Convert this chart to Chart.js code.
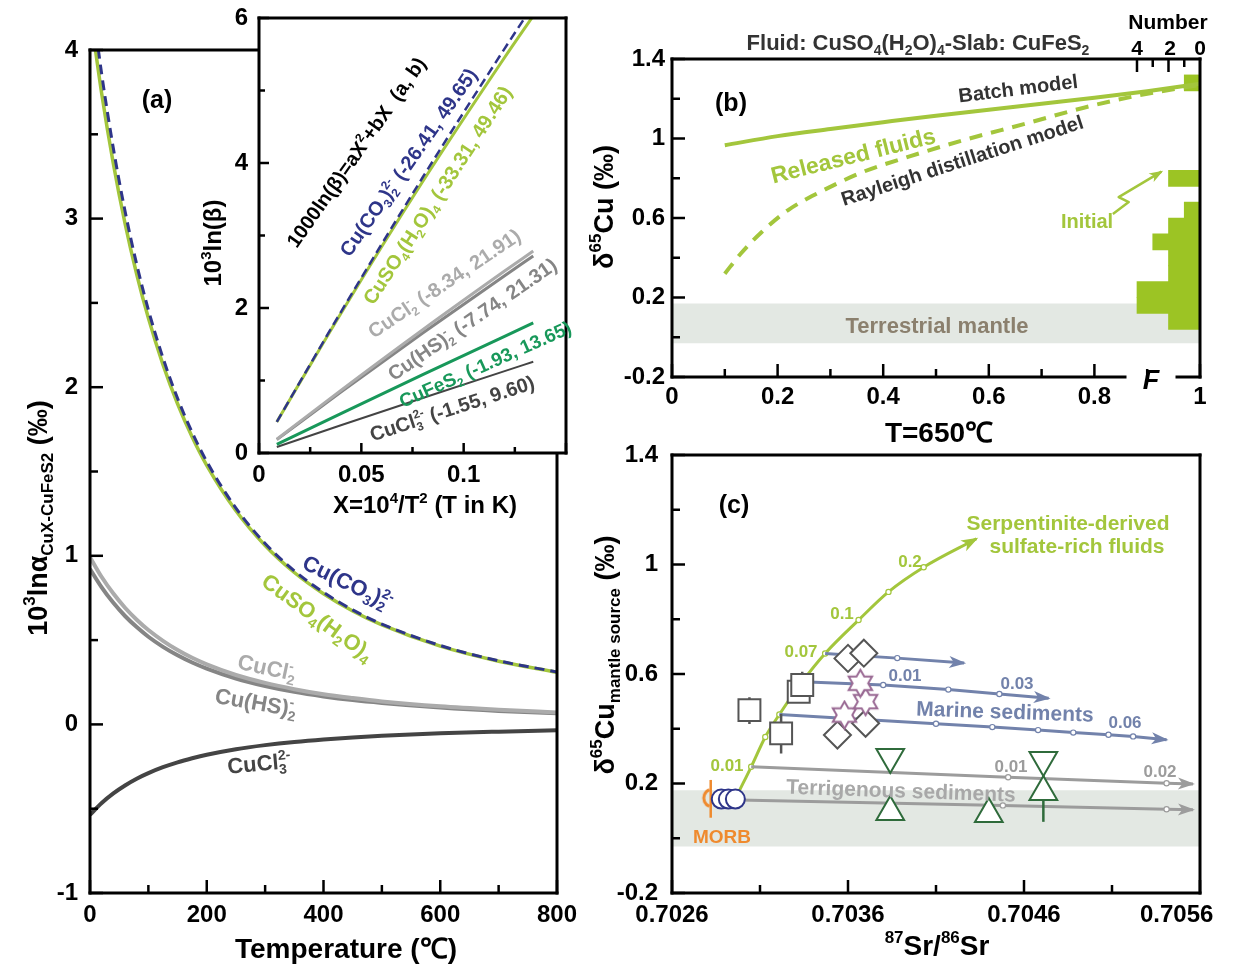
<!DOCTYPE html>
<html>
<head>
<meta charset="utf-8">
<script src="https://cdn.jsdelivr.net/npm/chart.js@4.4.1/dist/chart.umd.min.js"></script>
<style>
  body { margin: 0; background: #fff; width: 1233px; height: 974px; position: relative; overflow: hidden; }
  canvas { position: absolute; }
</style>
</head>
<body>
<canvas id="chartA" width="600" height="974" style="left:0;top:0"></canvas>
<canvas id="chartInset" width="380" height="530" style="left:200px;top:0"></canvas>
<canvas id="chartB" width="658" height="450" style="left:575px;top:0"></canvas>
<canvas id="chartC" width="658" height="534" style="left:575px;top:440px"></canvas>
<script>
/* === DATA === */
// (a) 10^3 ln alpha (CuX - CuFeS2) vs temperature
const tempC = [0, 20, 40, 60, 80, 100, 125, 150, 175, 200, 250, 300, 350, 400, 450, 500, 600, 700, 800];
const alphaCO3 = [4.385, 3.858, 3.417, 3.045, 2.729, 2.459, 2.174, 1.934, 1.732, 1.559, 1.283, 1.073, 0.911, 0.783, 0.679, 0.595, 0.468, 0.377, 0.311];
const alphaSO4 = [4.236, 3.742, 3.326, 2.972, 2.670, 2.410, 2.134, 1.902, 1.705, 1.537, 1.267, 1.061, 0.901, 0.775, 0.673, 0.590, 0.464, 0.375, 0.309];
const alphaCuCl2 = [0.992, 0.874, 0.776, 0.692, 0.621, 0.560, 0.496, 0.441, 0.395, 0.356, 0.293, 0.246, 0.209, 0.179, 0.156, 0.136, 0.107, 0.087, 0.071];
const alphaHS = [0.922, 0.813, 0.721, 0.643, 0.577, 0.520, 0.460, 0.410, 0.367, 0.331, 0.272, 0.228, 0.193, 0.166, 0.144, 0.127, 0.100, 0.080, 0.066];
const alphaCuCl3 = [-0.536, -0.466, -0.409, -0.362, -0.322, -0.289, -0.254, -0.225, -0.201, -0.180, -0.147, -0.123, -0.104, -0.089, -0.077, -0.068, -0.053, -0.043, -0.035];

// inset: 10^3 ln beta vs X = 10^4/T^2
const betaX = [0.0087, 0.04, 0.08, 0.12, 0.134];
const betaCO3 = [0.430, 1.944, 3.803, 5.578, 6.179];
const betaSO4 = [0.428, 1.925, 3.744, 5.455, 6.030];
const betaCuCl2 = [0.190, 0.863, 1.700, 2.509, 2.786];
const betaHS = [0.185, 0.840, 1.655, 2.446, 2.717];
const betaFeS2 = [0.119, 0.543, 1.080, 1.610, 1.794];
const betaCuCl3 = [0.083, 0.382, 0.758, 1.130, 1.258];

// (b) released fluids at 650 C
const batchF = [0.1, 0.2, 0.3, 0.4, 0.5, 0.6, 0.7, 0.8, 0.9, 1.0];
const batchCu = [0.966, 1.012, 1.048, 1.082, 1.115, 1.145, 1.175, 1.205, 1.238, 1.275];
const rayF = [0.1, 0.13, 0.17, 0.22, 0.28, 0.36, 0.45, 0.55, 0.67, 0.78, 0.88, 1.0];
const rayCu = [0.32, 0.42, 0.53, 0.64, 0.73, 0.83, 0.91, 0.99, 1.075, 1.155, 1.215, 1.27];
const binMid = [0.12, 0.20, 0.28, 0.36, 0.44, 0.52, 0.60, 0.68, 0.76, 0.84, 0.92, 1.00, 1.08, 1.16, 1.24, 1.32];
const binCount = [2, 4, 4, 2, 2, 3, 2, 1, 0, 2, 0, 0, 0, 0, 0, 1];
const mantleBand = [-0.03, 0.17];

// (c) d65Cu mantle source vs 87Sr/86Sr
const morbSr = [0.70282], morbCu = [0.147], morbErr = [[0.075, 0.213]];
const circleSr = [0.70288, 0.70292, 0.70296], circleCu = [0.143, 0.143, 0.143];
const squareSr = [0.70304, 0.70322, 0.70332, 0.70334], squareCu = [0.468, 0.383, 0.535, 0.56];
const squareErr = [[0.417, 0.515], [0.31, 0.454], null, [0.56, 0.608]];
const diamondSr = [0.70360, 0.70369, 0.70354, 0.70370], diamondCu = [0.657, 0.676, 0.377, 0.42];
const starSr = [0.70358, 0.70370, 0.70367], starCu = [0.45, 0.499, 0.566];
const triUpSr = [0.70384, 0.70440, 0.70471], triUpCu = [0.096, 0.089, 0.169];
const triDownSr = [0.70384, 0.70471], triDownCu = [0.297, 0.286];
const triErr = [null, null, [0.06, 0.31]];
const serpSr = [0.70298, 0.70305, 0.70313, 0.70321, 0.70334, 0.70347, 0.70366, 0.70383, 0.70403, 0.70433];
const serpCu = [0.17, 0.261, 0.37, 0.452, 0.572, 0.675, 0.797, 0.90, 0.99, 1.094];
const marine1Sr = [0.70347, 0.70388, 0.70426], marine1Cu = [0.675, 0.658, 0.64];
const marine2Sr = [0.70334, 0.70380, 0.70417, 0.70446, 0.70474], marine2Cu = [0.572, 0.56, 0.543, 0.527, 0.511];
const marine3Sr = [0.70321, 0.70410, 0.70442, 0.70468, 0.70488, 0.70508, 0.70522, 0.70541];
const marine3Cu = [0.452, 0.418, 0.406, 0.395, 0.386, 0.378, 0.372, 0.36];
const terr1Sr = [0.70305, 0.70451, 0.70541, 0.70556], terr1Cu = [0.261, 0.223, 0.201, 0.198];
const terr2Sr = [0.70298, 0.70448, 0.70541, 0.70556], terr2Cu = [0.14, 0.12, 0.106, 0.104];
const mantleBandC = [-0.03, 0.175];

/* === STYLE === */
const FONT = "'Liberation Sans', Arial, Helvetica, sans-serif";
const NAVY = '#2e3589';
const LIME = '#a3c63c';
const LIME_BAR = '#9cc424';
const GRAY_L = '#ababab';
const GRAY_M = '#858585';
const GRAY_D = '#444444';
const TEAL = '#18985a';
const BAND = '#e3e8e3';
const SLATE = '#7282ab';
const TERR = '#9c9c9c';
const ORANGE = '#ef8a2e';
const NBSP = '\u00a0';

/* === RICH TEXT (sub/superscripts) === */
function parseRich(str) {
  const segs = [];
  let buf = '', i = 0;
  while (i < str.length) {
    const c = str[i];
    if ((c === '_' || c === '^') && str[i + 1] === '{') {
      if (buf) { segs.push({ t: buf, m: '' }); buf = ''; }
      const end = str.indexOf('}', i);
      segs.push({ t: str.slice(i + 2, end), m: c === '_' ? 'sub' : 'sup' });
      i = end + 1;
    } else { buf += c; i++; }
  }
  if (buf) segs.push({ t: buf, m: '' });
  return segs;
}

function drawRich(ctx, str, x, y, o) {
  const size = o.size || 20;
  const small = Math.round(size * 0.62);
  const style = (o.italic ? 'italic ' : '') + 'bold ';
  const segs = parseRich(str);
  const items = [];
  let cx = 0, subStart = 0, subW = 0;
  segs.forEach((s, k) => {
    const fs = s.m ? small : size;
    ctx.font = style + fs + 'px ' + FONT;
    const w = ctx.measureText(s.t).width;
    let sx = cx;
    if (s.m === 'sup' && k > 0 && segs[k - 1].m === 'sub') {
      sx = subStart;
      cx = sx + Math.max(subW, w);
    } else {
      cx += w;
    }
    if (s.m === 'sub') { subStart = sx; subW = w; }
    const dy = s.m === 'sub' ? size * 0.22 : s.m === 'sup' ? -size * 0.42 : 0;
    items.push({ t: s.t, fs, x: sx, dy });
  });
  const x0 = o.align === 'left' ? 0 : o.align === 'right' ? -cx : -cx / 2;
  ctx.save();
  ctx.translate(x, y);
  if (o.rotate) ctx.rotate(o.rotate * Math.PI / 180);
  ctx.fillStyle = o.color || '#000';
  ctx.textBaseline = 'alphabetic';
  items.forEach(it => {
    ctx.font = style + it.fs + 'px ' + FONT;
    ctx.fillText(it.t, x0 + it.x, size * 0.36 + it.dy);
  });
  ctx.restore();
}

function arrowHead(ctx, p0, p1, color, len, half) {
  const ang = Math.atan2(p1[1] - p0[1], p1[0] - p0[0]);
  ctx.save();
  ctx.translate(p1[0], p1[1]);
  ctx.rotate(ang);
  ctx.fillStyle = color;
  ctx.beginPath();
  ctx.moveTo(2, 0);
  ctx.lineTo(-len, -half);
  ctx.lineTo(-len * 0.7, 0);
  ctx.lineTo(-len, half);
  ctx.closePath();
  ctx.fill();
  ctx.restore();
}

/* === DECORATION PLUGIN: frame, inward ticks, arrows, labels === */
const deco = {
  id: 'deco',
  beforeDraw(chart, args, o) {
    if (!o.white) return;
    const a = chart.chartArea, ctx = chart.ctx;
    ctx.save();
    ctx.fillStyle = '#fff';
    ctx.fillRect(a.left, a.top, a.right - a.left, a.bottom - a.top);
    ctx.restore();
  },
  afterDatasetsDraw(chart, args, o) {
    const ctx = chart.ctx, a = chart.chartArea;
    const ox = o.offset[0], oy = o.offset[1];
    ctx.save();

    // annotation paths in data units
    (o.paths || []).forEach(p => {
      const xs = chart.scales.x, ys = chart.scales.y;
      const pts = p.pts.map(q => [xs.getPixelForValue(q[0]), ys.getPixelForValue(q[1])]);
      ctx.strokeStyle = p.color;
      ctx.lineWidth = p.width;
      ctx.lineJoin = 'round';
      ctx.beginPath();
      pts.forEach((q, i) => i ? ctx.lineTo(q[0], q[1]) : ctx.moveTo(q[0], q[1]));
      ctx.stroke();
      const n = pts.length;
      if (p.arrow) arrowHead(ctx, pts[n - 2], pts[n - 1], p.color, 12, 5);
    });

    // arrow heads at the end of flagged lines
    chart.data.datasets.forEach((d, i) => {
      if (!d.arrowHead) return;
      const pts = chart.getDatasetMeta(i).data, n = pts.length;
      arrowHead(ctx, [pts[n - 2].x, pts[n - 2].y], [pts[n - 1].x, pts[n - 1].y], d.borderColor, 15, 6);
    });

    // inward tick marks
    const tk = o.ticks;
    ctx.strokeStyle = '#000';
    ctx.lineWidth = 2.5;
    ctx.lineCap = 'butt';
    tk.axes.forEach(id => {
      const s = chart.scales[id];
      s.ticks.forEach((t, i) => {
        const len = i % 2 === 0 ? tk.major : tk.minor;
        const p = s.getPixelForValue(t.value);
        ctx.beginPath();
        if (s.isHorizontal()) { ctx.moveTo(p, a.bottom); ctx.lineTo(p, a.bottom - len); }
        else { ctx.moveTo(a.left, p); ctx.lineTo(a.left + len, p); }
        ctx.stroke();
      });
    });
    (tk.extra || []).forEach(e => {
      const s = chart.scales[e.scale];
      e.values.forEach(v => {
        const p = s.getPixelForValue(v);
        const len = v % 2 === 0 ? tk.major : tk.minor;
        ctx.beginPath(); ctx.moveTo(p, a.top); ctx.lineTo(p, a.top + len); ctx.stroke();
      });
    });

    // frame
    ctx.lineWidth = 3;
    ctx.lineCap = 'square';
    const seg = (x1, y1, x2, y2) => { ctx.beginPath(); ctx.moveTo(x1, y1); ctx.lineTo(x2, y2); ctx.stroke(); };
    seg(a.left, a.top, a.left, a.bottom);
    if (o.gap) {
      seg(a.left, a.bottom, o.gap[0] - ox, a.bottom);
      seg(o.gap[1] - ox, a.bottom, a.right, a.bottom);
    } else {
      seg(a.left, a.bottom, a.right, a.bottom);
    }
    seg(a.right, a.top, a.right, a.bottom);
    seg(a.left, a.top, a.right, a.top);

    // labels (page coordinates)
    (o.texts || []).forEach(t => drawRich(ctx, t.s, t.x - ox, t.y - oy, t));
    ctx.restore();
  }
};

/* === HELPERS === */
function linAxis(o) {
  return {
    type: 'linear', min: o.min, max: o.max, position: o.pos,
    offset: false,
    grid: { display: false, drawTicks: false, offset: false },
    border: { display: false },
    ticks: {
      stepSize: o.step, autoSkip: false, maxRotation: 0, minRotation: 0,
      padding: o.pad, color: '#000',
      font: { family: FONT, size: o.font || 24, weight: 'bold' },
      callback: o.label
    },
    afterFit(s) {
      if (s.isHorizontal()) s.height = o.size; else s.width = o.size;
      s.paddingLeft = 0; s.paddingRight = 0; s.paddingTop = 0; s.paddingBottom = 0;
    }
  };
}

function series(xs, ys, color, extra) {
  return Object.assign({
    type: 'line',
    data: xs.map((x, i) => ({ x, y: ys[i] })),
    borderColor: color, backgroundColor: color,
    borderWidth: 3, pointRadius: 0, fill: false
  }, extra || {});
}

function innerDots(xs, color) {
  return {
    pointRadius: xs.map((_, i) => (i === 0 || i === xs.length - 1) ? 0 : 2.6),
    pointBackgroundColor: '#fff', pointBorderColor: color, pointBorderWidth: 1.2
  };
}

function symbols(xs, ys, style, color, radius, extra) {
  return Object.assign({
    type: 'line', showLine: false,
    data: xs.map((x, i) => ({ x, y: ys[i] })),
    pointStyle: style, pointRadius: radius,
    pointBorderColor: color, pointBackgroundColor: '#fff', pointBorderWidth: 2
  }, extra || {});
}

function errorBars(xs, errs, color) {
  const pts = [];
  errs.forEach((e, i) => {
    if (!e) return;
    pts.push({ x: xs[i], y: e[0] }, { x: xs[i], y: e[1] }, { x: xs[i], y: null });
  });
  return { type: 'line', data: pts, borderColor: color, borderWidth: 2.5, pointRadius: 0, spanGaps: false, fill: false };
}

function bandSet(lims) {
  return {
    type: 'line', data: [{ x: -1e9, y: lims[1] }, { x: 1e9, y: lims[1] }],
    borderWidth: 0, pointRadius: 0, backgroundColor: BAND, fill: { value: lims[0] }
  };
}

function everyOther(fmt) {
  return (v, i, ticks) => i % 2 === 0 ? fmt(v, i, ticks) : '';
}

function baseOptions(pad, scales, decoOpts) {
  return {
    responsive: false, animation: false, events: [],
    layout: { padding: pad, autoPadding: false },
    plugins: { legend: { display: false }, tooltip: { enabled: false }, deco: decoOpts },
    scales
  };
}

function hexagram(r, color) {
  const c = document.createElement('canvas');
  const s = Math.ceil(r * 2 + 4);
  c.width = s; c.height = s;
  const g = c.getContext('2d');
  g.translate(s / 2, s / 2);
  g.beginPath();
  for (let k = 0; k < 12; k++) {
    const ang = -Math.PI / 2 + k * Math.PI / 6;
    const rad = k % 2 === 0 ? r : r / Math.sqrt(3);
    g.lineTo(rad * Math.cos(ang), rad * Math.sin(ang));
  }
  g.closePath();
  g.fillStyle = '#fff'; g.fill();
  g.strokeStyle = color; g.lineWidth = 2; g.stroke();
  return c;
}

function morbGlyph(r, color) {
  const c = document.createElement('canvas');
  const s = Math.ceil(r * 2 + 6);
  c.width = s; c.height = s;
  const g = c.getContext('2d');
  g.strokeStyle = color; g.lineWidth = 3;
  g.beginPath();
  g.arc(s / 2 + 2, s / 2, r, Math.PI * 0.62, Math.PI * 1.38);
  g.stroke();
  return c;
}

/* === (a) MAIN === */
new Chart(document.getElementById('chartA'), {
  type: 'line',
  data: { datasets: [
    series(tempC, alphaCO3, NAVY, { borderWidth: 3, borderDash: [10, 6], cubicInterpolationMode: 'monotone' }),
    series(tempC, alphaSO4, LIME, { borderWidth: 3.5, cubicInterpolationMode: 'monotone' }),
    series(tempC, alphaCuCl2, GRAY_L, { borderWidth: 4, cubicInterpolationMode: 'monotone' }),
    series(tempC, alphaHS, GRAY_M, { borderWidth: 4, cubicInterpolationMode: 'monotone' }),
    series(tempC, alphaCuCl3, GRAY_D, { borderWidth: 4, cubicInterpolationMode: 'monotone' })
  ] },
  options: baseOptions({ top: 50, right: 43, left: 0, bottom: 0 }, {
    x: linAxis({ min: 0, max: 800, step: 100, size: 81, pad: 8, pos: 'bottom', label: everyOther(v => String(Math.round(v))) }),
    y: linAxis({ min: -1, max: 4, step: 0.5, size: 90, pad: 12, pos: 'left', label: everyOther(v => String(Math.round(v))) })
  }, {
    offset: [0, 0],
    ticks: { axes: ['x', 'y'], major: 13, minor: 8 },
    texts: [
      { s: '(a)', x: 157, y: 99, size: 25 },
      { s: 'Cu(CO_{3})_{2}^{2-}', x: 348, y: 582, size: 22, color: NAVY, rotate: 26 },
      { s: 'CuSO_{4}(H_{2}O)_{4}', x: 318, y: 617, size: 22, color: LIME, rotate: 36 },
      { s: 'CuCl_{2}^{-}', x: 267, y: 667, size: 22, color: GRAY_L, rotate: 12 },
      { s: 'Cu(HS)_{2}^{-}', x: 256, y: 702, size: 22, color: GRAY_M, rotate: 10 },
      { s: 'CuCl_{3}^{2-}', x: 259, y: 763, size: 22, color: GRAY_D, rotate: -5 },
      { s: '10^{3}lnα_{CuX-CuFeS2} (‰)', x: 37, y: 518, size: 27, rotate: -90 },
      { s: 'Temperature (℃)', x: 346, y: 948, size: 28 }
    ]
  }),
  plugins: [deco]
});

/* === (a) INSET === */
new Chart(document.getElementById('chartInset'), {
  type: 'line',
  data: { datasets: [
    series(betaX, betaCO3, NAVY, { borderWidth: 2.5, borderDash: [9, 5] }),
    series(betaX, betaSO4, LIME, { borderWidth: 3 }),
    series(betaX, betaCuCl2, GRAY_L, { borderWidth: 3 }),
    series(betaX, betaHS, GRAY_M, { borderWidth: 3 }),
    series(betaX, betaFeS2, TEAL, { borderWidth: 3 }),
    series(betaX, betaCuCl3, GRAY_D, { borderWidth: 2 })
  ].map(d => Object.assign(d, { cubicInterpolationMode: 'monotone' })) },
  options: baseOptions({ top: 18, right: 14, left: 0, bottom: 0 }, {
    x: linAxis({ min: 0, max: 0.15, step: 0.025, size: 77, pad: 8, pos: 'bottom', label: everyOther(v => v < 0.14 ? String(+v.toFixed(3)) : '') }),
    y: linAxis({ min: 0, max: 6, step: 1, size: 59, pad: 11, pos: 'left', label: everyOther(v => String(Math.round(v))) })
  }, {
    offset: [200, 0], white: true,
    ticks: { axes: ['x', 'y'], major: 10, minor: 6 },
    texts: [
      { s: '1000ln(β)=aX^{2}+bX  (a, b)', x: 356, y: 152, size: 20, rotate: -55 },
      { s: 'Cu(CO_{3})_{2}^{2-} (-26.41, 49.65)', x: 408, y: 162, size: 20, color: NAVY, rotate: -55 },
      { s: 'CuSO_{4}(H_{2}O)_{4} (-33.31, 49.46)', x: 437, y: 195, size: 20, color: LIME, rotate: -57 },
      { s: 'CuCl_{2}^{-} (-8.34, 21.91)', x: 444, y: 283, size: 20, color: GRAY_L, rotate: -34 },
      { s: 'Cu(HS)_{2}^{-} (-7.74, 21.31)', x: 472, y: 319, size: 20, color: GRAY_M, rotate: -34.5 },
      { s: 'CuFeS_{2} (-1.93, 13.65)', x: 485, y: 364, size: 19, color: TEAL, rotate: -24 },
      { s: 'CuCl_{3}^{2-} (-1.55, 9.60)', x: 452, y: 408, size: 20, color: GRAY_D, rotate: -18 },
      { s: '10^{3}ln(β)', x: 212, y: 243, size: 24, rotate: -90 },
      { s: 'X=10^{4}/T^{2} (T in K)', x: 425, y: 504, size: 24 }
    ]
  }),
  plugins: [deco]
});

/* === (b) === */
new Chart(document.getElementById('chartB'), {
  type: 'line',
  data: { datasets: [
    series(batchF, batchCu, LIME, { borderWidth: 4, cubicInterpolationMode: 'monotone' }),
    series(rayF, rayCu, LIME, { borderWidth: 4, borderDash: [13, 9], cubicInterpolationMode: 'monotone' }),
    {
      type: 'bar', indexAxis: 'y', xAxisID: 'xN', yAxisID: 'y',
      data: binMid.map((m, i) => ({ y: m, x: binCount[i] })),
      backgroundColor: LIME_BAR, borderWidth: 0,
      barThickness: 16, barPercentage: 1, categoryPercentage: 1
    },
    bandSet(mantleBand)
  ] },
  options: baseOptions({ top: 59, right: 33, left: 0, bottom: 0 }, {
    x: linAxis({ min: 0, max: 1, step: 0.1, size: 73, pad: 6, pos: 'bottom', label: everyOther(v => String(+v.toFixed(1))) }),
    xN: { type: 'linear', min: 0, max: 33.52, reverse: true, display: false, position: 'top', offset: false },
    y: linAxis({ min: -0.2, max: 1.4, step: 0.2, size: 97, pad: 7, pos: 'left', label: everyOther(v => String(+v.toFixed(1))) })
  }, {
    offset: [575, 0], gap: [1125, 1177],
    ticks: { axes: ['x', 'y'], major: 13, minor: 8, extra: [{ scale: 'xN', values: [1, 2, 3, 4] }] },
    paths: [{ pts: [[0.835, 0.62], [0.865, 0.68], [0.846, 0.705], [0.927, 0.833]], color: LIME, width: 2.5, arrow: true }],
    texts: [
      { s: '(b)', x: 731, y: 102, size: 25 },
      { s: 'Batch model', x: 1018, y: 88, size: 20, color: '#333', rotate: -7 },
      { s: 'Released fluids', x: 853, y: 155, size: 23, color: LIME, rotate: -14 },
      { s: 'Rayleigh distillation model', x: 962, y: 160, size: 20, color: '#333', rotate: -18 },
      { s: 'Initial', x: 1087, y: 221, size: 20, color: LIME },
      { s: 'Terrestrial mantle', x: 937, y: 325, size: 22, color: '#8b806e' },
      { s: 'Fluid: CuSO_{4}(H_{2}O)_{4}-Slab: CuFeS_{2}', x: 918, y: 42, size: 22, color: '#333' },
      { s: 'Number', x: 1168, y: 21, size: 21 },
      { s: '4', x: 1137, y: 47, size: 21 },
      { s: '2', x: 1170, y: 47, size: 21 },
      { s: '0', x: 1200, y: 47, size: 21 },
      { s: 'F', x: 1151, y: 379, size: 27, italic: true },
      { s: 'δ^{65}Cu (‰)', x: 603, y: 207, size: 27, rotate: -90 },
      { s: 'T=650℃', x: 939, y: 432, size: 28 }
    ]
  }),
  plugins: [deco]
});

/* === (c) === */
const starImg = hexagram(13.5, '#9a6a94');
const morbImg = morbGlyph(9, ORANGE);

new Chart(document.getElementById('chartC'), {
  type: 'line',
  data: { datasets: [
    symbols(starSr, starCu, starImg, '#9a6a94', 13),
    symbols(diamondSr, diamondCu, 'rectRot', '#555', 13.5),
    symbols(squareSr, squareCu, 'rect', '#555', 15.5),
    symbols(triDownSr, triDownCu, 'triangle', '#2f6b3b', 16, { pointRotation: 180 }),
    symbols(triUpSr, triUpCu, 'triangle', '#2f6b3b', 16),
    symbols(circleSr, circleCu, 'circle', NAVY, 9.5),
    symbols(morbSr, morbCu, morbImg, ORANGE, 9),
    errorBars(squareSr, squareErr, '#555'),
    errorBars(triUpSr, triErr, '#2f6b3b'),
    errorBars(morbSr, morbErr, ORANGE),
    series(marine1Sr, marine1Cu, SLATE, Object.assign({ arrowHead: true }, innerDots(marine1Sr, SLATE))),
    series(marine2Sr, marine2Cu, SLATE, Object.assign({ arrowHead: true }, innerDots(marine2Sr, SLATE))),
    series(marine3Sr, marine3Cu, SLATE, Object.assign({ arrowHead: true }, innerDots(marine3Sr, SLATE))),
    series(terr1Sr, terr1Cu, TERR, Object.assign({ arrowHead: true }, innerDots(terr1Sr, TERR))),
    series(terr2Sr, terr2Cu, TERR, Object.assign({ arrowHead: true }, innerDots(terr2Sr, TERR))),
    series(serpSr, serpCu, LIME, Object.assign({ arrowHead: true, cubicInterpolationMode: 'monotone' }, innerDots(serpSr, LIME))),
    bandSet(mantleBandC)
  ] },
  options: baseOptions({ top: 15, right: 33, left: 0, bottom: 0 }, {
    x: linAxis({ min: 0.7026, max: 0.7056, step: 0.0005, size: 81, pad: 8, pos: 'bottom',
      label: everyOther((v, i, ticks) => v.toFixed(4) + (i === ticks.length - 1 ? NBSP.repeat(7) : '')) }),
    y: linAxis({ min: -0.2, max: 1.4, step: 0.2, size: 97, pad: 14, pos: 'left', label: everyOther(v => String(+v.toFixed(1))) })
  }, {
    offset: [575, 440],
    ticks: { axes: ['x', 'y'], major: 13, minor: 8 },
    texts: [
      { s: '(c)', x: 734, y: 504, size: 25 },
      { s: 'Serpentinite-derived', x: 1068, y: 522, size: 21, color: LIME },
      { s: 'sulfate-rich fluids', x: 1077, y: 545, size: 21, color: LIME },
      { s: '0.2', x: 910, y: 561, size: 17, color: LIME },
      { s: '0.1', x: 842, y: 613, size: 17, color: LIME },
      { s: '0.07', x: 801, y: 651, size: 17, color: LIME },
      { s: '0.01', x: 727, y: 765, size: 17, color: LIME },
      { s: '0.01', x: 905, y: 675, size: 17, color: SLATE },
      { s: '0.03', x: 1017, y: 683, size: 17, color: SLATE },
      { s: '0.06', x: 1125, y: 722, size: 17, color: SLATE },
      { s: 'Marine sediments', x: 1005, y: 711, size: 21, color: SLATE, rotate: 2 },
      { s: '0.01', x: 1011, y: 766, size: 17, color: TERR },
      { s: '0.02', x: 1160, y: 771, size: 17, color: TERR },
      { s: 'Terrigenous sediments', x: 901, y: 790, size: 21, color: '#a8a8a8', rotate: 2 },
      { s: 'MORB', x: 722, y: 836, size: 19, color: ORANGE },
      { s: 'δ^{65}Cu_{mantle source} (‰)', x: 604, y: 655, size: 27, rotate: -90 },
      { s: '^{87}Sr/^{86}Sr', x: 937, y: 945, size: 28 }
    ]
  }),
  plugins: [deco]
});
</script>
</body>
</html>
